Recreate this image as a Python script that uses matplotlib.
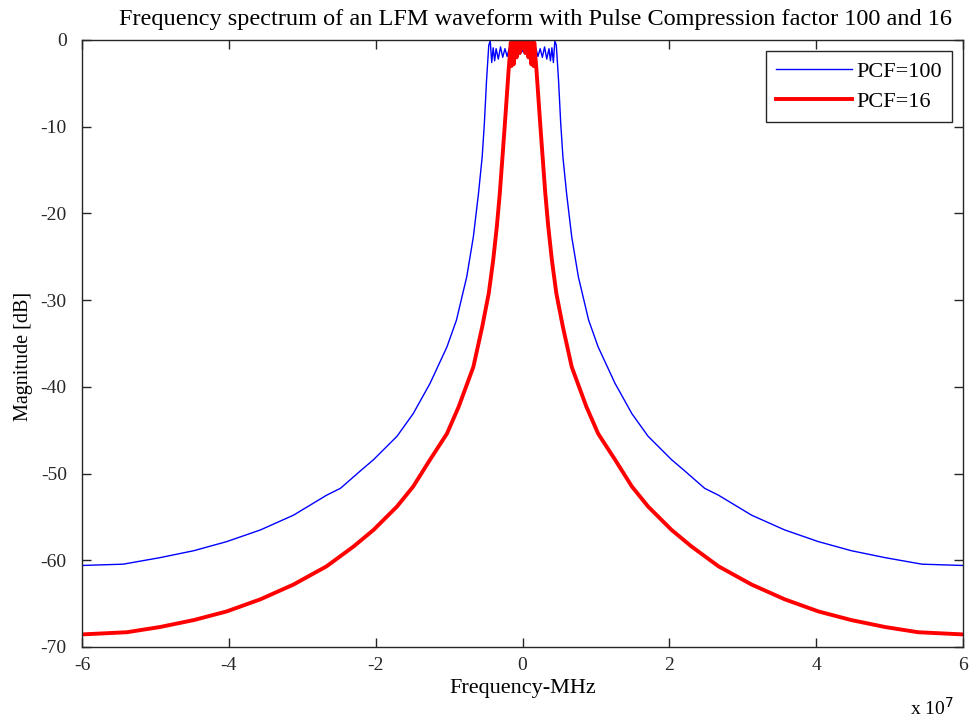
import numpy as np
import matplotlib
matplotlib.use('Agg')
import matplotlib.pyplot as plt

# frequency in units of 1e7 Hz, magnitude in dB
blue_f = [-6.0, -5.44, -4.94, -4.48, -4.03, -3.57, -3.12, -2.67, -2.48, -2.21, -2.03,
          -1.71, -1.49, -1.26, -1.03, -0.90, -0.76, -0.67, -0.60, -0.55, -0.52, -0.49,
          -0.46, -0.44, -0.42, -0.40, -0.38, -0.36, -0.33, -0.30, -0.27, -0.24, -0.21,
          -0.18, -0.15, -0.12, -0.09, -0.06, -0.03, 0.0, 0.03, 0.06, 0.09, 0.12, 0.15,
          0.18, 0.21, 0.24, 0.27, 0.30, 0.33, 0.36, 0.38, 0.40, 0.42, 0.44, 0.46, 0.49,
          0.52, 0.55, 0.60, 0.67, 0.76, 0.90, 1.03, 1.26, 1.49, 1.71, 2.03, 2.21, 2.48,
          2.67, 3.12, 3.57, 4.03, 4.48, 4.94, 5.44, 6.0]
blue_db = [-60.6, -60.45, -59.7, -58.9, -57.85, -56.5, -54.8, -52.5, -51.7, -49.7, -48.4,
           -45.7, -43.1, -39.6, -35.4, -32.3, -27.3, -22.7, -17.7, -13.5, -9.6, -4.6,
           -0.6, -0.1, -2.6, -0.9, -2.4, -1.0, -2.2, -0.8, -2.0, -1.0, -1.9,
           -0.9, -1.8, -1.0, -1.7, -1.1, -1.6, -1.2, -1.6, -1.1, -1.7, -1.0, -1.8,
           -0.9, -1.9, -1.0, -2.0, -0.8, -2.2, -1.0, -2.4, -0.9, -2.6, -0.1, -0.6, -4.6,
           -9.6, -13.5, -17.7, -22.7, -27.3, -32.3, -35.4, -39.6, -43.1, -45.7, -48.4, -49.7, -51.7,
           -52.5, -54.8, -56.5, -57.85, -58.9, -59.7, -60.45, -60.6]

red_f = [-6.0, -5.39, -4.94, -4.48, -4.03, -3.57, -3.12, -2.67, -2.30, -2.03, -1.71,
         -1.49, -1.26, -1.03, -0.87, -0.67, -0.55, -0.46, -0.40, -0.35, -0.31, -0.27,
         -0.24, -0.19, -0.16, -0.15, -0.14, -0.12, -0.10, -0.08, -0.06, -0.04, -0.02,
         0.0, 0.02, 0.04, 0.06, 0.08, 0.10, 0.12, 0.14, 0.15, 0.16, 0.19, 0.24, 0.27,
         0.31, 0.35, 0.40, 0.46, 0.55, 0.67, 0.87, 1.03, 1.26, 1.49, 1.71, 2.03, 2.30,
         2.67, 3.12, 3.57, 4.03, 4.48, 4.94, 5.39, 6.0]
red_db = [-68.55, -68.3, -67.7, -66.9, -65.9, -64.5, -62.8, -60.7, -58.4, -56.5, -53.8,
          -51.5, -48.4, -45.4, -42.3, -37.7, -33.1, -29.2, -25.4, -21.5, -17.7, -13.1,
          -9.6, -3.5, -0.3, -3.0, -0.2, -2.8, -0.3, -2.0, -0.2, -1.5, -0.1,
          -1.0, -0.1, -1.5, -0.2, -2.0, -0.3, -2.8, -0.2, -3.0, -0.3, -3.5, -9.6, -13.1,
          -17.7, -21.5, -25.4, -29.2, -33.1, -37.7, -42.3, -45.4, -48.4, -51.5, -53.8, -56.5, -58.4,
          -60.7, -62.8, -64.5, -65.9, -66.9, -67.7, -68.3, -68.55]

xticks = [-6, -4, -2, 0, 2, 4, 6]
yticks = [0, -10, -20, -30, -40, -50, -60, -70]

plt.rcParams['font.family'] = ['Liberation Serif', 'DejaVu Serif']
plt.rcParams['axes.unicode_minus'] = False

fig = plt.figure(figsize=(9.71, 7.22), dpi=100)
ax = fig.add_axes([0.0845, 0.1039, 0.9073, 0.8407])

ax.plot(blue_f, blue_db, color='#0000ff', lw=1.0, label='PCF=100')
ax.plot(red_f, red_db, color='#ff0000', lw=2.8, label='PCF=16')

ax.set_xlim(-6, 6)
ax.set_ylim(-70, 0)
ax.set_xticks(xticks)
ax.set_yticks(yticks)
ax.tick_params(direction='in', top=True, right=True, labelsize=14, length=6.5, width=1, colors='#262626')
ax.tick_params(axis='y', pad=11)
ax.tick_params(axis='x', pad=7)
for s in ax.spines.values():
    s.set_color('#262626')
    s.set_linewidth(1)

ax.set_title('Frequency spectrum of an LFM waveform with Pulse Compression factor 100 and 16',
             fontsize=17.5, pad=11, x=0.515)
ax.set_xlabel('Frequency-MHz', fontsize=16)
ax.set_ylabel('Magnitude [dB]', fontsize=14.5)
ax.xaxis.set_label_coords(0.5, -0.053)
ax.yaxis.set_label_coords(-0.056, 0.478)
fig.text(0.937, 0.01, r'x 10$^7$', fontsize=14)

leg = ax.legend(loc='upper right', fontsize=16, fancybox=False, edgecolor='#262626',
                framealpha=1, handlelength=3.4, handletextpad=0.2, borderpad=0.45,
                borderaxespad=0.5, labelspacing=0.45)
leg.get_frame().set_linewidth(1)

fig.savefig('out.png', dpi=100)
